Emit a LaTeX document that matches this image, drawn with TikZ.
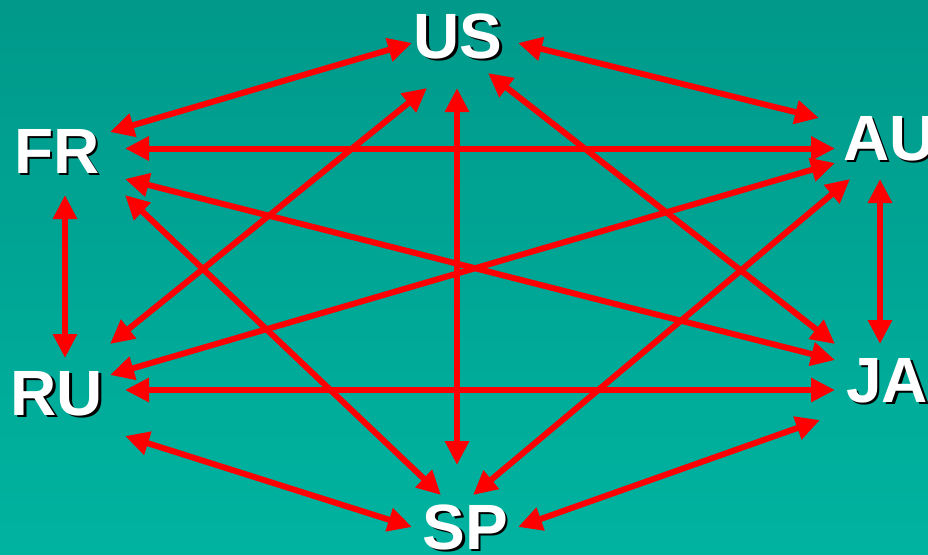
\documentclass[tikz,border=0pt]{standalone}
\usepackage{fontspec}
\setmainfont{Liberation Sans}
\usetikzlibrary{arrows.meta}
\definecolor{bgtop}{HTML}{00998A}
\definecolor{bgbot}{HTML}{00B3A0}
\definecolor{arrred}{HTML}{FF0000}
\tikzset{
  arr/.style={draw=arrred, line width=6pt,
    {Triangle[length=24pt,width=23pt]}-{Triangle[length=24pt,width=23pt]}},
  lbl/.style={font=\fontsize{64}{64}\selectfont\bfseries, text=white, inner sep=0pt},
  shd/.style={font=\fontsize{64}{64}\selectfont\bfseries, text=black, inner sep=0pt}
}
\begin{document}
\begin{tikzpicture}[x=1pt,y=-1pt]
\useasboundingbox (0,0) rectangle (928,554);
\shade[top color=bgtop, bottom color=bgbot] (0,0) rectangle (928,554);

% endpoints
\coordinate (usA) at (412,43);   \coordinate (frA) at (110,132);
\coordinate (usB) at (518,43);   \coordinate (auB) at (819,118);
\coordinate (frC) at (125,148.5);\coordinate (auC) at (835,148.5);
\coordinate (usD) at (427,88);   \coordinate (ruD) at (110,344);
\coordinate (usE) at (457,88);   \coordinate (spE) at (457,465);
\coordinate (usF) at (488,73);   \coordinate (jaF) at (835,344);
\coordinate (frG) at (65,195);   \coordinate (ruG) at (65,358);
\coordinate (frH) at (125,179);  \coordinate (jaH) at (835,360);
\coordinate (frI) at (125,195);  \coordinate (spI) at (441,495);
\coordinate (auJ) at (835,163);  \coordinate (ruJ) at (110,375);
\coordinate (auK) at (850,179);  \coordinate (spK) at (473,495);
\coordinate (auL) at (880,179);  \coordinate (jaL) at (880,344);
\coordinate (ruM) at (125,390);  \coordinate (jaM) at (835,390);
\coordinate (ruN) at (125,436);  \coordinate (spN) at (412,527);
\coordinate (jaO) at (820,420);  \coordinate (spO) at (518,527);

\draw[arr] (usA) -- (frA);
\draw[arr] (usB) -- (auB);
\draw[arr] (frC) -- (auC);
\draw[arr] (usD) -- (ruD);
\draw[arr] (usE) -- (spE);
\draw[arr] (usF) -- (jaF);
\draw[arr] (frG) -- (ruG);
\draw[arr] (frH) -- (jaH);
\draw[arr] (frI) -- (spI);
\draw[arr] (auJ) -- (ruJ);
\draw[arr] (auK) -- (spK);
\draw[arr] (auL) -- (jaL);
\draw[arr] (ruM) -- (jaM);
\draw[arr] (ruN) -- (spN);
\draw[arr] (jaO) -- (spO);

% labels with shadows
\node[shd, anchor=base] (USs) at (460.5,60.5) {US};
\node[lbl, anchor=base] (US) at (458,58) {US};
\node[shd, anchor=base] (FRs) at (59.5,175.5) {FR};
\node[lbl, anchor=base] (FR) at (57,173) {FR};
\node[shd, anchor=base] (RUs) at (59.5,417.5) {RU};
\node[lbl, anchor=base] (RU) at (57,415) {RU};
\node[shd, anchor=base west] (AUs) at (845.5,162.5) {AU};
\node[lbl, anchor=base west] (AU) at (843,160) {AU};
\node[shd, anchor=base west] (JAs) at (848.5,404.5) {JA};
\node[lbl, anchor=base west] (JA) at (846,402) {JA};
\node[shd, anchor=base west] (SPs) at (425,551.5) {SP};
\node[lbl, anchor=base west] (SP) at (422.5,549) {SP};
\end{tikzpicture}
\end{document}
